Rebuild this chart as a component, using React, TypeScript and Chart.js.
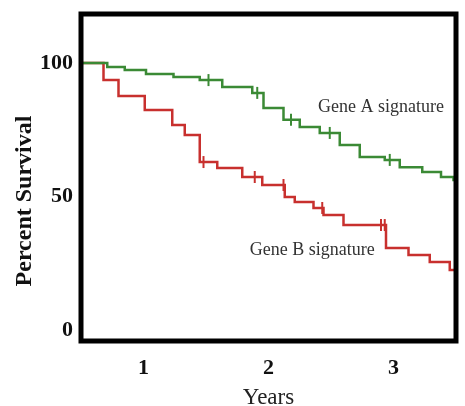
import React, { useEffect, useRef } from "react";
import { Chart, registerables } from "chart.js";

Chart.register(...registerables);

// ---- data ----
const xTickValues = [1, 2, 3];
const yTickValues = [0, 50, 100];

const geneATimes = [0.5, 0.71, 0.85, 1.02, 1.24, 1.45, 1.63, 1.87, 1.96, 2.12, 2.25, 2.41, 2.57, 2.73, 2.93, 3.05, 3.23, 3.38, 3.48, 3.5];
const geneASurvival = [100, 98.5, 97.4, 95.9, 94.8, 93.6, 91, 88.8, 83.1, 78.7, 76, 73.8, 69.3, 64.8, 63.7, 61, 59.2, 57.3, 56.2, 56.2];
const geneACensorTimes = [1.52, 1.91, 2.18, 2.49, 2.97];
const geneACensorSurvival = [93.6, 88.8, 78.7, 73.8, 63.7];

const geneBTimes = [0.5, 0.68, 0.8, 1.01, 1.23, 1.33, 1.45, 1.59, 1.79, 1.95, 2.13, 2.21, 2.36, 2.44, 2.6, 2.94, 3.12, 3.29, 3.45, 3.5];
const geneBSurvival = [100, 93.6, 87.6, 82.4, 76.8, 73.0, 62.9, 60.7, 57.3, 54.3, 49.8, 47.9, 45.7, 43.1, 39.3, 30.7, 28.1, 25.5, 22.5, 22.5];
const geneBCensorTimes = [1.48, 1.89, 2.12, 2.43, 2.9, 2.93];
const geneBCensorSurvival = [62.9, 57.3, 54.3, 45.7, 39.3, 39.3];

const seriesLabels = ["Gene A signature", "Gene B signature"];
const xTitle = "Years";
const yTitle = "Percent Survival";

const GREEN = "#3b8a35";
const RED = "#c8302e";
const SERIF = "'Liberation Serif', 'Times New Roman', serif";

const toPoints = (xs: number[], ys: number[]) => xs.map((x, i) => ({ x, y: ys[i] }));

const framePlugin = {
  id: "frameAndText",
  afterDatasetsDraw(chart: any) {
    const { ctx, chartArea, scales } = chart;
    ctx.save();
    // frame
    ctx.strokeStyle = "#000";
    ctx.lineWidth = 5;
    ctx.strokeRect(chartArea.left, chartArea.top, chartArea.right - chartArea.left, chartArea.bottom - chartArea.top);
    // series labels
    ctx.fillStyle = "#333";
    ctx.font = `18px ${SERIF}`;
    ctx.textAlign = "center";
    ctx.textBaseline = "middle";
    ctx.fillText(seriesLabels[0], scales.x.getPixelForValue(2.9), scales.y.getPixelForValue(83.5));
    ctx.fillText(seriesLabels[1], scales.x.getPixelForValue(2.35), scales.y.getPixelForValue(30));
    // y title
    ctx.fillStyle = "#111";
    ctx.font = `bold 24px ${SERIF}`;
    ctx.translate(25, 201);
    ctx.rotate(-Math.PI / 2);
    ctx.fillText(yTitle, 0, 0);
    ctx.restore();
  },
};

export default function App() {
  const ref = useRef<HTMLCanvasElement | null>(null);

  useEffect(() => {
    if (!ref.current) return;
    const chart = new Chart(ref.current, {
      type: "line",
      data: {
        datasets: [
          {
            label: seriesLabels[0],
            data: toPoints(geneATimes, geneASurvival),
            borderColor: GREEN,
            borderWidth: 2.5,
            stepped: true,
            pointRadius: 0,
            fill: false,
          },
          {
            label: seriesLabels[1],
            data: toPoints(geneBTimes, geneBSurvival),
            borderColor: RED,
            borderWidth: 2.5,
            stepped: true,
            pointRadius: 0,
            fill: false,
          },
          {
            label: "A censored",
            data: toPoints(geneACensorTimes, geneACensorSurvival),
            showLine: false,
            pointStyle: "line",
            rotation: 90,
            pointRadius: 6,
            borderColor: GREEN,
            pointBorderWidth: 2,
          },
          {
            label: "B censored",
            data: toPoints(geneBCensorTimes, geneBCensorSurvival),
            showLine: false,
            pointStyle: "line",
            rotation: 90,
            pointRadius: 6,
            borderColor: RED,
            pointBorderWidth: 2,
          },
        ],
      },
      options: {
        animation: false,
        responsive: false,
        devicePixelRatio: 1,
        layout: { padding: { top: 14, right: 9, left: 0, bottom: 0 } },
        plugins: { legend: { display: false }, tooltip: { enabled: false } },
        scales: {
          x: {
            type: "linear",
            min: 0.5,
            max: 3.5,
            grid: { display: false, drawTicks: false, tickLength: 0 },
            border: { display: false },
            afterBuildTicks: (s: any) => {
              s.ticks = xTickValues.map((v) => ({ value: v }));
            },
            afterFit: (s: any) => {
              s.height = 65;
              s.paddingLeft = 0;
              s.paddingRight = 0;
            },
            ticks: {
              autoSkip: false,
              maxRotation: 0,
              padding: 14,
              color: "#111",
              font: { family: SERIF, size: 22, weight: "bold" },
              callback: (v: any) => String(v),
            },
            title: {
              display: true,
              text: xTitle,
              color: "#222",
              font: { family: SERIF, size: 23, lineHeight: 1 },
              padding: { top: 0, bottom: -3.5 },
            },
          },
          y: {
            type: "linear",
            min: -4.12,
            max: 118.35,
            grid: { display: false, drawTicks: false, tickLength: 0 },
            border: { display: false },
            afterBuildTicks: (s: any) => {
              s.ticks = yTickValues.map((v) => ({ value: v }));
            },
            afterFit: (s: any) => {
              s.width = 81;
              s.paddingTop = 0;
              s.paddingBottom = 0;
            },
            ticks: {
              padding: 8,
              color: "#111",
              font: { family: SERIF, size: 22, weight: "bold" },
              callback: (v: any) => String(v),
            },
          },
        },
      },
      plugins: [framePlugin],
    } as any);
    return () => chart.destroy();
  }, []);

  return (
    <div style={{ position: "absolute", left: 0, top: 0, width: 465, height: 406, background: "#fff" }}>
      <canvas ref={ref} width={465} height={406} style={{ display: "block" }} />
    </div>
  );
}
